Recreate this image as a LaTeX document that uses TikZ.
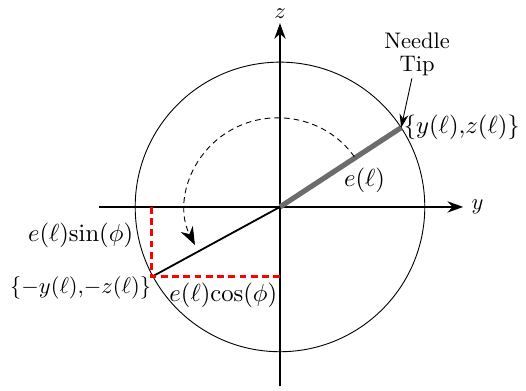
\documentclass[tikz,border=0pt]{standalone}
\usepackage{amsmath}
\usepackage{tikz}
\usetikzlibrary{arrows.meta}

\tikzset{
  lab/.style={font=\fontsize{10.9}{13}\selectfont},
  axis/.style={thick,-{Stealth[length=7pt,width=5pt]}}
}

\begin{document}
\begin{tikzpicture}[scale=1]

\useasboundingbox (-4.37,-2.87) rectangle (3.84,3.23);

% Circle
\draw (0,0) circle (2.26);

% Axes
\draw[axis] (-2.82,0) -- (2.86,0) node[right] (ylab) {$y$};
\draw[axis] (0,-2.80) -- (0,2.87) node[above,inner sep=1.5pt] (zlab) {$z$};

% Needle
\coordinate (O) at (0,0);
\coordinate (tip) at (33.2:2.26);
\coordinate (back) at (-2.0,-1.09);
\coordinate (backy) at (-2.0,0);
\coordinate (backz) at (0,-1.09);
\draw[gray!85!black,line width=2.3pt] (O) -- (tip);
\draw[thick] (O) -- (back);

% Projections
\draw[red,line width=1.2pt,dash pattern=on 3pt off 2pt] (backy) -- (back) -- (backz);

% Rotation
\draw[dashed,dash pattern=on 2.5pt off 1.8pt,-{Stealth[length=8pt,width=6pt]}] (34:1.40) arc (34:206:1.44 and 1.38);

% Labels
\node[lab] (el) at (1.32,0.41) {$e(\ell)$};
\node[lab,anchor=west,inner sep=1pt] (tiplab) at (tip) {$\{y(\ell){,}z(\ell)\}$};
\node[align=center,inner sep=1pt] (needle) at (2.14,2.38) {Needle\\[-2pt]Tip};
\draw[-{Stealth[length=6pt,width=4pt]}] (needle) -- (tip);

\node[lab,anchor=east,inner sep=1pt] (sinlab) at (-2.25,-0.44) {$e(\ell)\mathrm{sin}(\phi)$};
\node[font=\fontsize{10.4}{12}\selectfont,anchor=north east,inner sep=1pt] (backlab) at (-1.97,-1.04) {$\{-y(\ell){,}{-}z(\ell)\}$};
\node[lab,anchor=north east,inner sep=1pt] (coslab) at (0,-1.14) {$e(\ell)\mathrm{cos}(\phi)$};

\end{tikzpicture}
\end{document}
